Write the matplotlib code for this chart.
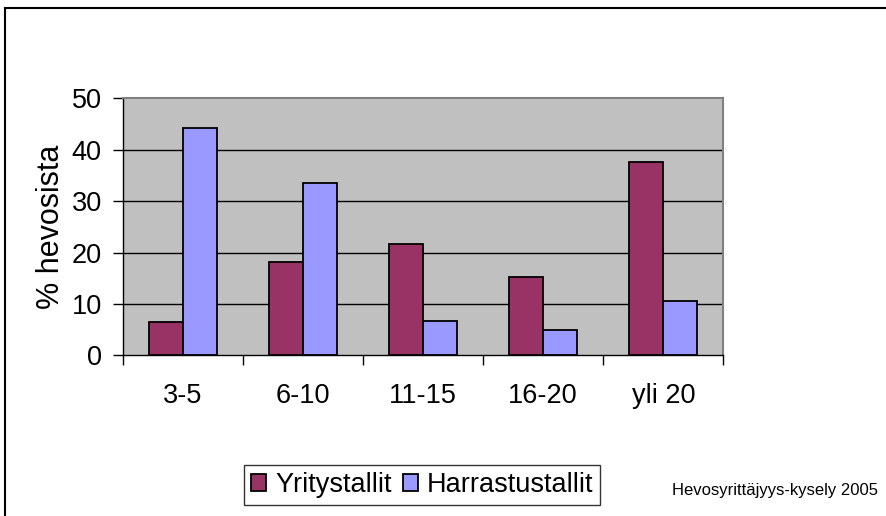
import numpy as np
import matplotlib
matplotlib.use("Agg")
import matplotlib.pyplot as plt
from matplotlib.patches import Rectangle

plt.rcParams['font.family'] = ['Liberation Sans', 'DejaVu Sans']

categories = ["3-5", "6-10", "11-15", "16-20", "yli 20"]
yritys = [6.4, 18.1, 21.7, 15.3, 37.7]
harrastus = [44.2, 33.5, 6.7, 4.9, 10.6]
series_names = ["Yritystallit", "Harrastustallit"]
yticks = [0, 10, 20, 30, 40, 50]

fig = plt.figure(figsize=(8.87, 5.16), dpi=100)
ax = fig.add_axes([0.1383, 0.3114, 0.6772, 0.4981])

x = np.arange(len(categories))
w = 0.283
ax.bar(x - w / 2, yritys, w, color="#993366", edgecolor="black", linewidth=1.3,
       label=series_names[0], zorder=3)
ax.bar(x + w / 2, harrastus, w, color="#9999FF", edgecolor="black", linewidth=1.3,
       label=series_names[1], zorder=3)

ax.set_facecolor("#C0C0C0")
ax.set_xlim(-0.5, len(categories) - 0.5)
ax.set_ylim(0, 50)
ax.set_yticks(yticks)
ax.set_yticklabels([str(t) for t in yticks], fontsize=19.5)
for t in yticks[1:-1]:
    ax.axhline(t, color="black", linewidth=1, zorder=1)

ax.set_xticks(x)
ax.set_xticklabels(categories, fontsize=19.5)
ax.set_xticks(np.arange(len(categories) + 1) - 0.5, minor=True)
ax.tick_params(axis="x", which="major", length=0, pad=20)
ax.tick_params(axis="x", which="minor", length=7, width=1, direction="out")
ax.tick_params(axis="y", length=7, width=1, direction="out", pad=8)

for s in ["top", "right"]:
    ax.spines[s].set_color("#808080")
    ax.spines[s].set_linewidth(1.5)
for s in ["left", "bottom"]:
    ax.spines[s].set_color("black")
    ax.spines[s].set_linewidth(1)

ax.set_ylabel("% hevosista", fontsize=22, labelpad=4)

leg = fig.legend(loc="center", bbox_to_anchor=(0.476, 0.060), ncol=2, fontsize=19.5,
                 frameon=True, fancybox=False, edgecolor="black", handlelength=0.55,
                 handleheight=0.55, handletextpad=0.35, columnspacing=0.4,
                 borderpad=0.25, borderaxespad=0)
leg.get_frame().set_linewidth(1)

fig.text(0.874, 0.050, "Hevosyrittäjyys-kysely 2005", fontsize=12, ha="center", va="center")

fig.patches.append(Rectangle((5 / 887, -0.01), 1.0, 1 - 8 / 516 + 0.01,
                             transform=fig.transFigure, fill=False,
                             edgecolor="black", linewidth=1.5))

fig.savefig("out.png", dpi=100)
